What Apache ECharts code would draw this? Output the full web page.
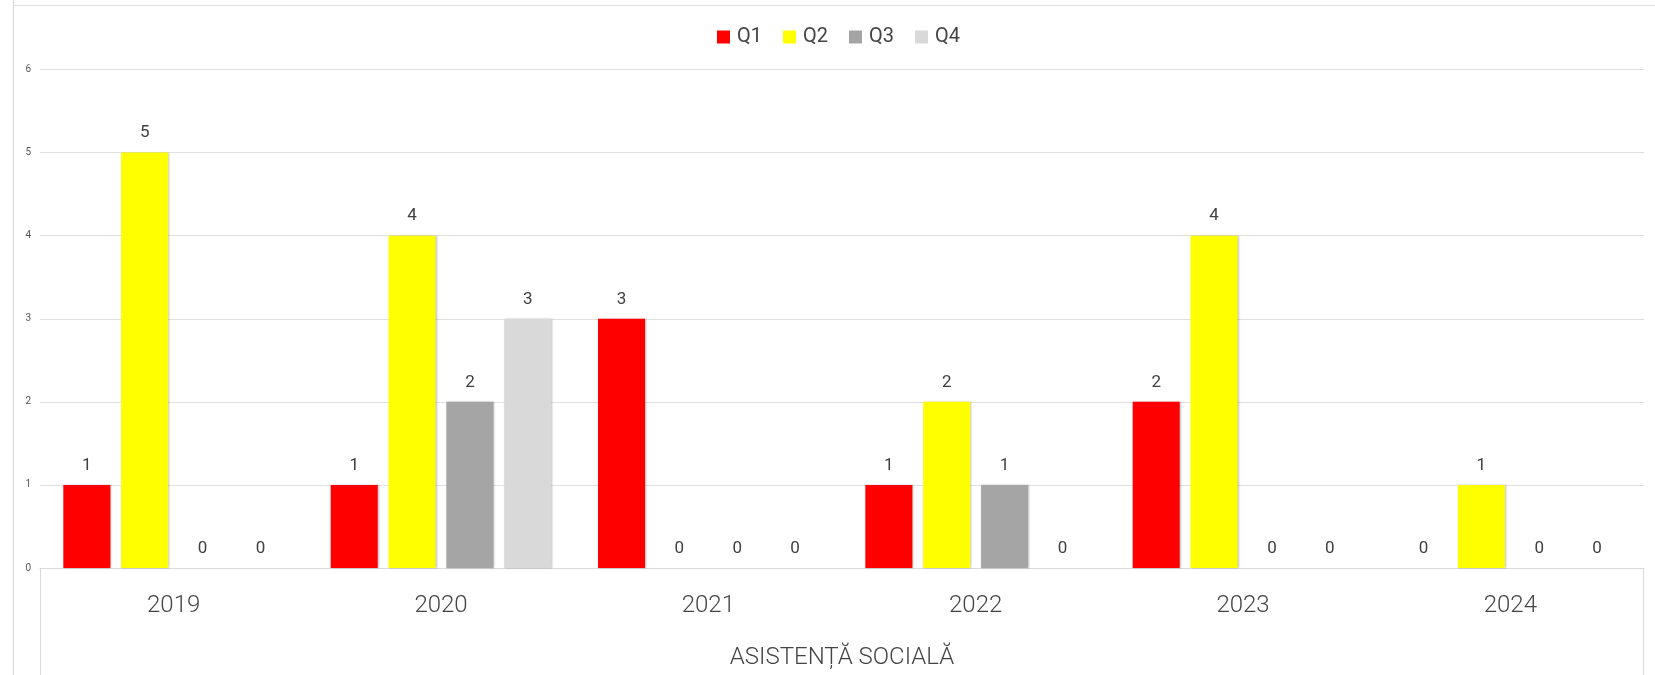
<!DOCTYPE html>
<html><head><meta charset="utf-8">
<script src="https://cdn.jsdelivr.net/npm/echarts@6/dist/echarts.min.js"></script>
<style>html,body{margin:0;padding:0;background:#fff}#c{width:1655px;height:675px}</style>
</head><body><div id="c"></div>
<script>
const categories = ['2019','2020','2021','2022','2023','2024'];
const q1 = [1,1,3,1,2,0];
const q2 = [5,4,0,2,4,1];
const q3 = [0,2,0,1,0,0];
const q4 = [0,3,0,0,0,0];
const seriesNames = ['Q1','Q2','Q3','Q4'];
const seriesColors = ['#FF0000','#FFFF00','#A5A5A5','#D9D9D9'];
const yTicks = [0,1,2,3,4,5,6];
const axisTitle = 'ASISTENȚĂ SOCIALĂ';

const chart = echarts.init(document.getElementById('c'));
const FONT = 'Roboto, "Noto Sans", sans-serif';
const values = [q1,q2,q3,q4];
chart.setOption({
  animation:false,
  textStyle:{fontFamily:FONT},
  legend:{
    top:27, left:717, padding:0, itemWidth:13, itemHeight:13, itemGap:21,
    icon:'rect',
    textStyle:{fontSize:20, color:'#444', fontFamily:FONT, padding:[0,0,0,2]},
    data:seriesNames
  },
  grid:{left:40, right:11, top:69.5, bottom:107, containLabel:false, outerBoundsMode:'none'},
  xAxis:{
    type:'category', data:categories,
    axisLine:{show:true, lineStyle:{color:'#d9d9d9'}},
    axisTick:{show:false},
    axisLabel:{fontSize:24, color:'#444', margin:26, fontWeight:300},
    name:axisTitle, nameLocation:'middle', nameGap:78,
    nameTextStyle:{fontSize:24, color:'#444', fontWeight:300}
  },
  yAxis:{
    type:'value', min:yTicks[0], max:yTicks[yTicks.length-1], interval:1,
    axisLine:{show:false}, axisTick:{show:false},
    axisLabel:{fontSize:10, color:'#555', margin:9},
    splitLine:{lineStyle:{color:'#e0e0e0'}}
  },
  graphic:[
    {type:'line', shape:{x1:13.5,y1:0,x2:13.5,y2:675}, style:{stroke:'#d9d9d9', lineWidth:1}, silent:true},
    {type:'line', shape:{x1:13,y1:5.5,x2:1655,y2:5.5}, style:{stroke:'#e0e0e0', lineWidth:1}, silent:true},
    {type:'line', shape:{x1:40.5,y1:568,x2:40.5,y2:675}, style:{stroke:'#d9d9d9', lineWidth:1}, silent:true},
    {type:'line', shape:{x1:1643.5,y1:568,x2:1643.5,y2:675}, style:{stroke:'#d9d9d9', lineWidth:1}, silent:true}
  ],
  series: seriesNames.map((n,i)=>({
    name:n, type:'bar', data:values[i],
    barWidth:'17.6%', barGap:'23%',
    itemStyle:{color:seriesColors[i], shadowBlur:2, shadowColor:'rgba(0,0,0,0.25)', shadowOffsetX:1},
    label:{show:true, position:'top', distance:11, fontSize:17, color:'#404040'}
  }))
});
</script></body></html>
